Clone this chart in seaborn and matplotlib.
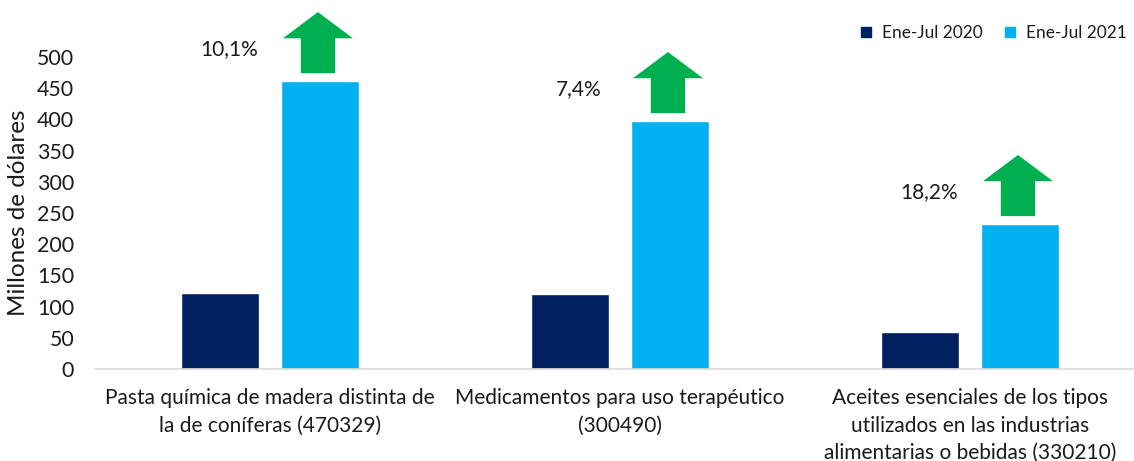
import numpy as np
import pandas as pd
import seaborn as sns
import matplotlib.pyplot as plt
from matplotlib.patches import Polygon
from matplotlib.lines import Line2D

# Data
categories = [
    "Pasta química de madera distinta de\nla de coníferas (470329)",
    "Medicamentos para uso terapéutico\n(300490)",
    "Aceites esenciales de los tipos\nutilizados en las industrias\nalimentarias o bebidas (330210)",
]
series_names = ["Ene-Jul 2020", "Ene-Jul 2021"]
values_2020 = [121, 120, 59]
values_2021 = [462, 398, 233]
growth_labels = ["10,1%", "7,4%", "18,2%"]

colors = ["#002060", "#00B0F0"]
arrow_color = "#00B050"
text_color = "#1a1a1a"

df = pd.DataFrame({
    "categoria": categories * 2,
    "periodo": [series_names[0]] * 3 + [series_names[1]] * 3,
    "valor": values_2020 + values_2021,
})

sns.set_style("white")
plt.rcParams["font.family"] = ["Lato", "DejaVu Sans"]

fig = plt.figure(figsize=(11.34, 4.61), dpi=100)
ax = fig.add_axes([95 / 1134, 92 / 461, 1 - 95 / 1134, 312 / 461])

sns.barplot(data=df, x="categoria", y="valor", hue="periodo",
            palette=colors, width=0.571, gap=0.22, saturation=1,
            legend=False, ax=ax)

ax.set_xlim(-0.5, 2.5 - 11 / 350)
ax.set_ylim(0, 500)
ax.set_yticks(np.arange(0, 501, 50))
ax.tick_params(axis="y", labelsize=15.4, length=0, pad=15, labelcolor=text_color)
ax.tick_params(axis="x", labelsize=15, length=0, pad=14, labelcolor=text_color)
for lab in ax.get_xticklabels():
    lab.set_linespacing(1.45)
ax.set_xlabel("")
ax.set_ylabel("Millones de dólares", fontsize=17.5, labelpad=6, color=text_color)

for s in ["top", "right", "left"]:
    ax.spines[s].set_visible(False)
ax.spines["bottom"].set_color("#D9D9D9")
ax.spines["bottom"].set_linewidth(1.2)

# Growth arrows and labels
for i, v in enumerate(values_2021):
    cx = i + 0.137
    hw, sw = 0.1, 0.049
    pts = [
        (cx - sw, v + 12), (cx + sw, v + 12), (cx + sw, v + 68),
        (cx + hw, v + 68), (cx, v + 110), (cx - hw, v + 68),
        (cx - sw, v + 68),
    ]
    ax.add_patch(Polygon(pts, closed=True, facecolor=arrow_color,
                         edgecolor="none", clip_on=False))
    ax.text(i - 0.117, v + 50, growth_labels[i], ha="center", va="center",
            fontsize=15, color=text_color)

# Legend
handles = [Line2D([0], [0], marker="s", linestyle="none", markersize=7.5,
                  markerfacecolor=c, markeredgecolor=c) for c in colors]
fig.legend(handles, series_names, loc="upper right", ncol=2, frameon=False,
           bbox_to_anchor=(1.007, 0.98), fontsize=12.4, handletextpad=0.5,
           handlelength=0.8, columnspacing=1.2, labelcolor=text_color)

plt.savefig("out.png", dpi=100)
